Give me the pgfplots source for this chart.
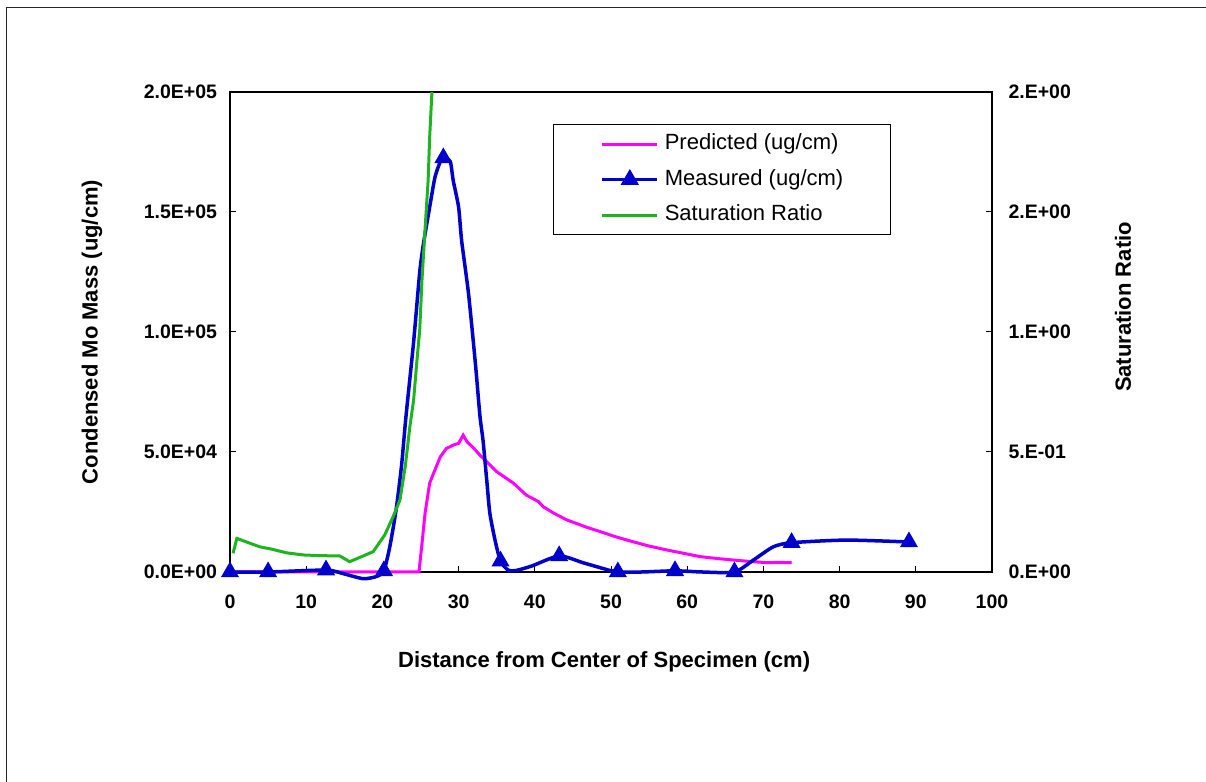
\documentclass[border=0pt]{standalone}
\usepackage{fontspec}
\setmainfont{Liberation Sans}
\usepackage{pgfplots}
\pgfplotsset{compat=1.18}
\definecolor{mblue}{RGB}{0,0,204}
\definecolor{mmag}{RGB}{255,0,255}
\definecolor{mgreen}{RGB}{30,180,30}
\begin{document}
\begin{tikzpicture}
\useasboundingbox (0bp,0bp) rectangle (1206bp,782bp);
\draw[line width=1.5bp, black!85] (6.5bp,0bp) -- (6.5bp,774.5bp) -- (1206bp,774.5bp);
\begin{axis}[
  at={(230bp,210bp)}, anchor=south west,
  scale only axis, width=762bp, height=480bp,
  xmin=0, xmax=100, ymin=0, ymax=200000,
  clip=false,
  xtick={0,10,...,100},
  xticklabels={0,10,20,30,40,50,60,70,80,90,100},
  ytick={0,50000,100000,150000,200000},
  yticklabels={0.0E+00,5.0E+04,1.0E+05,1.5E+05,2.0E+05},
  scaled y ticks=false,
  xtick pos=bottom, ytick pos=left,
  tick align=inside, major tick length=6bp,
  axis line style={black, line width=1.2bp},
  tick style={black, line width=1bp},
  tick label style={font=\fontsize{19.5bp}{23bp}\selectfont\bfseries},
  yticklabel style={xshift=-9.5bp},
  xticklabel style={yshift=-19bp},
  xlabel={Distance from Center of Specimen (cm)},
  ylabel={Condensed Mo Mass (ug/cm)},
  label style={font=\fontsize{22bp}{26bp}\selectfont\bfseries},
  xlabel style={at={(axis description cs:0.491,-0.1875)}, anchor=center},
  ylabel style={at={(axis description cs:-0.1811,0.5)}, anchor=center},
  legend style={at={(0.4243,0.9333)}, anchor=north west, draw=black, line width=1bp,
    fill=white, inner xsep=47bp, inner ysep=9bp, row sep=14.5bp, column sep=6bp,
    nodes={font=\fontsize{22bp}{26bp}\selectfont, inner sep=0pt, text height=16bp, text depth=5bp}},
  legend cell align=left,
  legend image code/.code={\draw[#1, mark repeat=2, mark phase=2] plot coordinates {(0bp,0bp) (27.5bp,0bp) (55bp,0bp)};},
]
\addplot[mmag, line width=3bp, forget plot] coordinates {
(0,0) (12.6,0) (20,0) (24.8,0) (25.2,12000) (25.6,24500) (26.2,37000) (26.7,41000)
(27.6,48000) (28.4,51500) (29.4,53000) (30.0,53600) (30.6,57000) (31.1,54300)
(32.0,51500) (32.8,48700) (34.0,45000) (35.0,41800) (37.2,37000) (38.9,32000)
(40.5,29300) (41.1,27200) (42.5,24500) (44.2,21700) (46.5,19000) (48.6,16800)
(50.8,14500) (52.9,12600) (55.0,10800) (57.3,9200) (59.5,7800) (61.7,6400)
(64.0,5600) (66.0,5000) (68.2,4400) (70.4,3900) (72.0,4000) (73.7,3900)
};
\addplot[mblue, line width=3.5bp, smooth, tension=0.4, forget plot] coordinates {
(0,0) (5.0,0) (12.6,800) (15.0,-800) (17.5,-2800) (19.3,-1800) (20.2,500)
(21.0,11000) (21.8,26000) (22.5,44000) (23.1,65000) (24.1,96000) (24.9,125000)
(25.4,137000) (26.2,152000) (26.9,164500) (27.6,171000) (28.0,172500) (28.9,171000)
(29.3,163000) (30.0,152000) (30.4,138000) (31.3,116000) (32.2,87000) (32.8,65000)
(33.2,55000) (33.7,38000) (34.1,24500) (34.8,13000) (35.5,4500) (36.5,800)
(37.5,600) (39.6,2500) (43.2,6700) (46.4,3800) (49.9,600) (50.9,0) (54,0)
(58.4,500) (62,0) (66.2,0) (68.7,5000) (71.3,10500) (73.7,12200) (80.9,13300) (89.1,12500)
};
\addplot[only marks, mark=triangle*, mark size=9.5bp, mblue, mark options={solid, fill=mblue, line width=1bp}, forget plot] coordinates {
(0,0) (5.0,0) (12.6,800) (20.2,500) (28.0,172500) (35.5,4500) (43.2,6700)
(50.9,0) (58.4,500) (66.2,0) (73.7,12200) (89.1,12500)
};
\addlegendimage{mmag, line width=3bp}
\addlegendentry{Predicted (ug/cm)}
\addlegendimage{mblue, line width=3bp, mark=triangle*, mark size=9.5bp, mark options={solid, fill=mblue, line width=1bp}}
\addlegendentry{Measured (ug/cm)}
\addlegendimage{mgreen, line width=3bp}
\addlegendentry{Saturation Ratio}
\end{axis}
\begin{axis}[
  at={(230bp,210bp)}, anchor=south west,
  scale only axis, width=762bp, height=480bp,
  xmin=0, xmax=100, ymin=0, ymax=2,
  axis y line*=right, axis x line=none,
  ytick={0,0.5,1,1.5,2},
  yticklabels={0.E+00,5.E-01,1.E+00,2.E+00,2.E+00},
  tick align=inside, major tick length=6bp,
  axis line style={black, line width=1.2bp},
  tick style={black, line width=1bp},
  tick label style={font=\fontsize{19.5bp}{23bp}\selectfont\bfseries},
  yticklabel style={xshift=13bp},
  ylabel={Saturation Ratio},
  ylabel style={font=\fontsize{22bp}{26bp}\selectfont\bfseries, at={(axis description cs:1.1719,0.552)}, anchor=center},
]
\addplot[mgreen, line width=3bp] coordinates {
(0.4,0.078) (0.9,0.140) (2.6,0.120) (3.9,0.105) (5.5,0.095) (7.4,0.080) (9.6,0.071)
(12.0,0.068) (14.4,0.067) (15.7,0.043) (17.5,0.067) (18.8,0.085) (20.3,0.154)
(21.4,0.230) (22.3,0.30) (23.0,0.44) (23.6,0.605) (24.1,0.717) (24.5,0.87)
(24.9,1.01) (25.2,1.22) (25.6,1.43) (26.0,1.63) (26.2,1.81) (26.5,2.0)
};
\end{axis}
\end{tikzpicture}
\end{document}
